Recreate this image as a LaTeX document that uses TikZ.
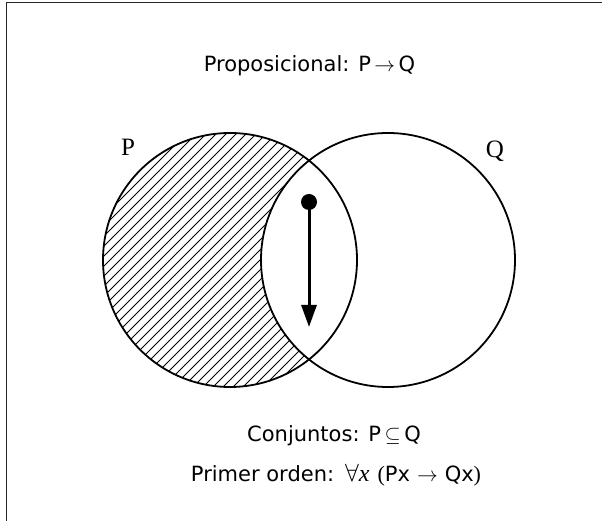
\documentclass[tikz,border=0pt]{standalone}
\usepackage{fontspec}
\setmainfont{Liberation Serif}
\newfontfamily\dvs{DejaVu Sans}
\usetikzlibrary{arrows.meta}
\tikzset{
  lbl/.style={font=\dvs\fontsize{21}{25}\selectfont, inner sep=0pt, anchor=base},
  setlbl/.style={font=\rmfamily\fontsize{25}{30}\selectfont, inner sep=0pt, anchor=base},
  setc/.style={line width=1.8pt},
}
\newcommand{\srm}[1]{{\rmfamily\fontsize{22}{26}\selectfont #1}}
\newcommand{\brm}[1]{{\rmfamily\fontsize{24}{28}\selectfont #1}}
\begin{document}
\begin{tikzpicture}[x=1pt,y=1pt]
\useasboundingbox (0,0) rectangle (602,521);
% frame
\draw[line width=1.8pt, black!85] (6.5,-10) -- (6.5,518.5) -- (612,518.5);
% hatching of P minus Q
\begin{scope}
  \clip (230,261) circle (127);
  \foreach \c in {-420,-410,...,420}{
    \draw[line width=0.8pt] (\c-150,111) -- (\c+150+150,411+150);
  }
  \fill[white] (388,261) circle (127);
\end{scope}
\draw[setc] (230,261) circle (127);
\draw[setc] (388,261) circle (127);
% labels
\node[setlbl] (P) at (128,365) {P};
\node[setlbl] (Q) at (495,363) {Q};
% arrow
\node[circle, fill, inner sep=0pt, minimum size=16pt] (dot) at (309,319) {};
\coordinate (tip) at (309,194);
\draw[line width=3pt, -{Triangle[length=22pt,width=15pt]}] (dot.center) -- (tip);
% texts
\node[lbl] (t1) at (309.5,449) {Proposicional: P\,\srm{$\rightarrow$}\,Q};
\node[lbl] (t2) at (334,79.5) {Conjuntos: P\,\srm{$\subseteq$}\,Q};
\node[lbl] (t3) at (336,39.5) {Primer orden:\hspace{11pt}\brm{$\forall$\textit{x}}\hspace{8pt}\srm{(}Px\hspace{7pt}\srm{$\rightarrow$}\hspace{7pt}Qx\srm{)}};
\end{tikzpicture}
\end{document}
